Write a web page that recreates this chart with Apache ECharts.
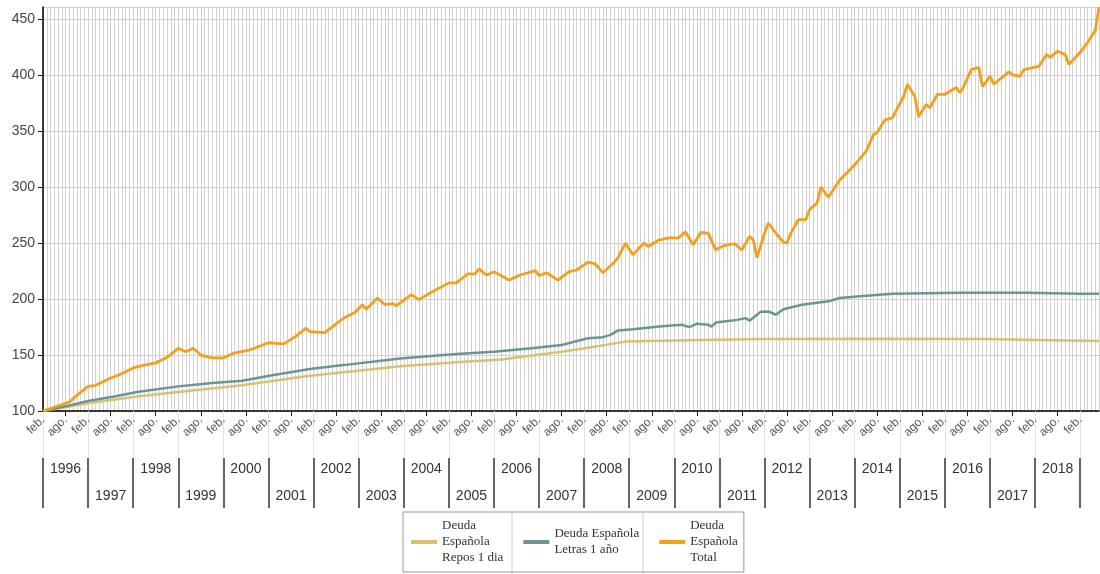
<!DOCTYPE html>
<html>
<head>
<meta charset="utf-8">
<script src="https://cdn.jsdelivr.net/npm/echarts@6/dist/echarts.min.js"></script>
<style>
  html, body { margin: 0; padding: 0; background: #fff; }
  #main { width: 1100px; height: 574px; }
</style>
</head>
<body>
<div id="main"></div>
<script>
// month abbreviations (Spanish), first point is feb. 1996
const MONTHS = ['ene.', 'feb.', 'mar.', 'abr.', 'may.', 'jun.', 'jul.', 'ago.', 'sep.', 'oct.', 'nov.', 'dic.'];
const FIRST_YEAR = 1996;
const N_MONTHS = 282; // feb 1996 .. jul 2019
const yearLabels = ['1996', '1997', '1998', '1999', '2000', '2001', '2002', '2003', '2004', '2005', '2006', '2007',
  '2008', '2009', '2010', '2011', '2012', '2013', '2014', '2015', '2016', '2017', '2018'];

// [month index from feb 1996, value]
const reposDia = [
  [0, 100], [12, 107], [25, 113], [36, 117], [53, 123], [70, 131], [95, 140], [110, 143.5],
  [122, 146], [138, 153], [148, 158], [155, 162], [175, 163.5], [191, 164.4], [220, 164.6],
  [250, 164.4], [265, 163.5], [281, 162.6]
];
const letras1Ano = [
  [0, 100], [7, 105], [12, 109], [19, 113], [25, 117], [36, 122], [45, 125], [53, 127], [61, 132],
  [71, 137.5], [80, 141], [95, 147], [110, 151], [120, 153], [130, 156], [138, 159], [145, 165],
  [149, 166], [151, 168], [153, 172], [157, 173], [164, 175.5], [170, 177], [172, 175], [174, 178],
  [177, 177], [178, 175.5], [179, 179], [184, 181], [187, 183], [188, 180.6], [191, 188.6],
  [193, 189], [195, 186], [197, 191], [202, 195], [209, 198], [212, 201], [219, 203], [226, 204.7],
  [244, 205.6], [262, 205.6], [276, 204.7], [281, 204.7]
];
const deudaTotal = [
  [0, 100], [7, 108], [9, 114], [12, 122], [14, 123], [18, 129.5], [20, 132], [24, 138.5], [27, 141],
  [30, 143], [33, 148], [36, 156], [38, 153], [40, 156], [42, 150], [45, 147.5], [48, 147.5],
  [51, 152], [55, 154.5], [60, 161], [64, 160], [67, 166], [70, 174], [71, 171], [75, 170],
  [80, 183], [83, 188], [85, 195], [86, 191], [89, 201], [91, 195], [93, 196], [94, 194],
  [98, 204], [100, 199.5], [103, 205.5], [108, 214.5], [110, 214.5], [113, 222.5], [115, 222.5],
  [116, 227], [118, 221.5], [120, 224.5], [124, 217], [127, 221.5], [131, 225.5], [132, 221],
  [134, 223.5], [137, 217], [140, 224.5], [142, 226], [145, 233], [147, 231.5], [149, 223.5],
  [152, 233], [153, 237], [155, 250], [157, 239.5], [159, 247], [160, 250], [161, 247], [164, 253],
  [167, 255], [169, 254.5], [171, 260], [173, 248.5], [175, 259.5], [177, 259], [179, 244],
  [181, 247.5], [184, 249.5], [186, 244], [188, 256], [189, 253], [190, 237], [192, 259],
  [193, 268], [195, 259], [197, 251], [198, 250], [199, 259], [201, 271], [203, 271], [204, 280],
  [206, 286], [207, 300], [209, 291], [212, 306.5], [216, 320], [219, 332], [221, 347], [222, 349],
  [224, 360], [226, 362], [229, 381], [230, 392], [232, 381], [233, 363], [235, 374], [236, 371],
  [238, 383], [240, 383], [243, 389], [244, 384.5], [245, 390], [247, 405], [249, 407], [250, 390],
  [252, 399], [253, 392], [257, 403], [258, 400.6], [260, 399], [261, 405], [265, 408],
  [267, 418.6], [268, 416], [270, 421.5], [272, 418.6], [273, 409.7], [275, 417], [276, 420.5],
  [278, 429.5], [280, 440], [281, 461]
];

const categories = [];
for (let i = 0; i < N_MONTHS; i++) {
  const m = (1 + i) % 12;
  const y = FIRST_YEAR + Math.floor((1 + i) / 12);
  categories.push(MONTHS[m] + ' ' + y);
}

const isHalfYear = (i) => i % 6 === 0;
const isFeb = (i) => i % 12 === 0;
const isYearMid = (i) => i % 12 === 6;

const myChart = echarts.init(document.getElementById('main'));
const option = {
  animation: false,
  backgroundColor: '#fff',
  grid: { left: 43, right: 1, top: 7, bottom: 163 },
  xAxis: [
    {
      type: 'category',
      data: categories,
      boundaryGap: false,
      axisLine: { lineStyle: { color: '#000', width: 1.5 } },
      axisTick: { interval: (i) => isHalfYear(i), length: 5, lineStyle: { color: '#222' } },
      axisLabel: {
        interval: (i) => isHalfYear(i),
        rotate: 45,
        margin: 7,
        color: '#555',
        fontFamily: 'Arial',
        fontSize: 12,
        formatter: (v) => v.split(' ')[0]
      },
      splitLine: { show: true, interval: 0, lineStyle: { color: '#d2d2d2', width: 1 } }
    },
    {
      // year brackets
      type: 'category',
      data: categories,
      boundaryGap: false,
      position: 'bottom',
      offset: 47,
      axisLine: { show: false },
      axisTick: { interval: (i) => isFeb(i), length: 50, lineStyle: { color: '#333', width: 1.5 } },
      axisLabel: {
        interval: (i) => isYearMid(i),
        margin: 4,
        color: '#333',
        fontFamily: 'Arial',
        fontSize: 14,
        formatter: (v, i) => {
          const k = (i - 6) / 12;
          const txt = yearLabels[k] || '';
          return k % 2 === 0 ? '{a|' + txt + '}' : '{b|' + txt + '}';
        },
        rich: {
          a: { fontSize: 14, color: '#333', fontFamily: 'Arial', padding: [0, 0, 0, 0] },
          b: { fontSize: 14, color: '#333', fontFamily: 'Arial', padding: [27, 0, 0, 0] }
        }
      },
      splitLine: { show: false }
    },
    {
      // faint guides from the axis down to the year rows
      type: 'category',
      data: categories,
      boundaryGap: false,
      position: 'bottom',
      offset: 0,
      axisLine: { show: false },
      axisTick: { interval: (i) => isFeb(i), length: 47, lineStyle: { color: '#e2e2e2', width: 1 } },
      axisLabel: { show: false },
      splitLine: { show: false }
    }
  ],
  yAxis: {
    type: 'value',
    min: 100,
    max: 461,
    interval: 50,
    axisLine: { show: true, lineStyle: { color: '#000', width: 1.5 } },
    axisTick: { show: true, length: 5, lineStyle: { color: '#222' } },
    axisLabel: { color: '#444', fontFamily: 'Arial', fontSize: 14, margin: 8, showMaxLabel: false },
    splitLine: { lineStyle: { color: '#cfcfcf', width: 1 } }
  },
  legend: {
    left: 403,
    top: 512,
    padding: [6, 6, 6, 8],
    itemGap: 20,
    itemWidth: 26,
    itemHeight: 4,
    icon: 'rect',
    borderColor: '#999',
    borderWidth: 1,
    textStyle: { fontFamily: 'Liberation Serif', fontSize: 13, color: '#333', lineHeight: 16 },
    data: ['Deuda\nEspañola\nRepos 1 dia', 'Deuda Española\nLetras 1 año', 'Deuda\nEspañola\nTotal']
  },
  graphic: [
    { type: 'line', shape: { x1: 512, y1: 513, x2: 512, y2: 574 }, style: { stroke: '#ccc', lineWidth: 1 } },
    { type: 'line', shape: { x1: 643, y1: 513, x2: 643, y2: 574 }, style: { stroke: '#ccc', lineWidth: 1 } }
  ],
  series: [
    {
      name: 'Deuda\nEspañola\nRepos 1 dia',
      type: 'line',
      data: reposDia,
      showSymbol: false,
      color: '#D9C172',
      lineStyle: { width: 2.5 }
    },
    {
      name: 'Deuda Española\nLetras 1 año',
      type: 'line',
      data: letras1Ano,
      showSymbol: false,
      color: '#6B9593',
      lineStyle: { width: 2.5 }
    },
    {
      name: 'Deuda\nEspañola\nTotal',
      type: 'line',
      data: deudaTotal,
      showSymbol: false,
      color: '#F2A11F',
      lineStyle: { width: 2.8 }
    }
  ]
};
myChart.setOption(option);
</script>
</body>
</html>
